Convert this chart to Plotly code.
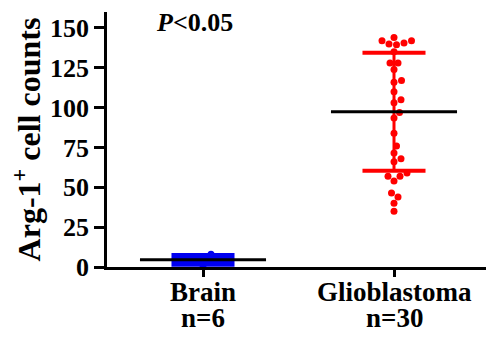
import plotly.graph_objects as go

# ---- data ----
groups = ["Brain", "Glioblastoma"]
n_labels = ["n=6", "n=30"]
brain_values = [1, 3, 4, 5, 6, 8]
glio_values = [144, 142, 142, 140.6, 140, 139.5,
               135, 128, 128, 124,
               117, 116, 110,
               105, 103, 97, 93.5,
               84, 76, 71.5, 68, 66,
               59, 57, 57, 54,
               46.5, 44, 40, 35]
group_means = [4.5, 97.4]
group_sds = [2.4, 37.0]
y_ticks = [0, 25, 50, 75, 100, 125, 150]
p_text = "<i>P</i>&lt;0.05"
y_title = "Arg-1<sup>+</sup> cell counts"

# ---- layout constants ----
W, H = 486, 338
ML, MR, MT, MB = 107, 0, 12, 71
X_RANGE = [0.4974, 2.4817]
Y_RANGE = [0, 160]
px_x = (W - ML - MR) / (X_RANGE[1] - X_RANGE[0])
px_y = (H - MT - MB) / (Y_RANGE[1] - Y_RANGE[0])
FONT = "Liberation Serif"
colors = ["#0000f0", "#ff0000"]
cap_widths = [6, 4]
MARKER_D = 7


def swarm_x(values, center):
    """Simple beeswarm: place each point at the nearest free horizontal slot."""
    placed = []
    xs = [None] * len(values)
    order = sorted(range(len(values)), key=lambda i: values[i])
    cands = [0.0]
    step = 0.5
    k = 1
    while k * step <= 80:
        cands += [k * step, -k * step]
        k += 1
    for i in order:
        y = values[i] * px_y
        for c in cands:
            if all((c - px) ** 2 + (y - py) ** 2 >= (MARKER_D + 0.5) ** 2 for px, py in placed):
                placed.append((c, y))
                xs[i] = center + c / px_x
                break
    return xs


fig = go.Figure()
all_values = [brain_values, glio_values]
for gi, vals in enumerate(all_values):
    pos = gi + 1
    fig.add_trace(go.Scatter(
        x=swarm_x(vals, pos), y=vals, mode="markers",
        marker=dict(color=colors[gi], size=MARKER_D, line=dict(width=0)),
        showlegend=False, hoverinfo="skip"))

CAP = 0.165
MEAN_W = 0.33
for gi in range(len(groups)):
    pos = gi + 1
    m, s = group_means[gi], group_sds[gi]
    # SD whiskers
    fig.add_trace(go.Scatter(
        x=[pos, pos], y=[m - s, m + s], mode="lines",
        line=dict(color=colors[gi], width=3), showlegend=False, hoverinfo="skip"))
    for yv in (m - s, m + s):
        fig.add_trace(go.Scatter(
            x=[pos - CAP, pos + CAP], y=[yv, yv], mode="lines",
            line=dict(color=colors[gi], width=cap_widths[gi]), showlegend=False, hoverinfo="skip"))
    # mean line
    fig.add_trace(go.Scatter(
        x=[pos - MEAN_W, pos + MEAN_W], y=[m, m], mode="lines",
        line=dict(color="black", width=3), showlegend=False, hoverinfo="skip"))

fig.update_layout(
    width=W, height=H,
    margin=dict(l=ML, r=MR, t=MT, b=MB),
    paper_bgcolor="white", plot_bgcolor="white",
    font=dict(family=FONT, color="black"),
    showlegend=False,
)
fig.update_xaxes(
    range=X_RANGE, tickvals=[1, 2], showticklabels=False,
    showline=True, linecolor="black", linewidth=2.5,
    ticks="outside", ticklen=7, tickwidth=2.5, tickcolor="black",
    showgrid=False, zeroline=False,
)
fig.update_yaxes(
    range=Y_RANGE, tickvals=y_ticks,
    showline=True, linecolor="black", linewidth=2.5,
    ticks="outside", ticklen=10, tickwidth=2.5, tickcolor="black",
    showgrid=False, zeroline=False,
    tickfont=dict(family=FONT, size=26, weight="bold", color="black"),
    title=dict(text=y_title, font=dict(family=FONT, size=32, weight="bold", color="black"),
               standoff=0),
)

label_font = dict(family=FONT, size=27, weight="bold", color="black")
for gi in range(len(groups)):
    fig.add_annotation(x=gi + 1, xref="x", y=0, yref="paper", yshift=-25,
                       text=groups[gi], showarrow=False, yanchor="middle",
                       font=label_font)
    fig.add_annotation(x=gi + 1, xref="x", y=0, yref="paper", yshift=-51,
                       text=n_labels[gi], showarrow=False, yanchor="middle",
                       font=label_font)

fig.add_annotation(x=0.958, xref="x", y=153.7, yref="y", text=p_text,
                   showarrow=False, xanchor="center", yanchor="middle",
                   font=dict(family=FONT, size=26, weight="bold", color="black"))

fig.write_html("out.html")
